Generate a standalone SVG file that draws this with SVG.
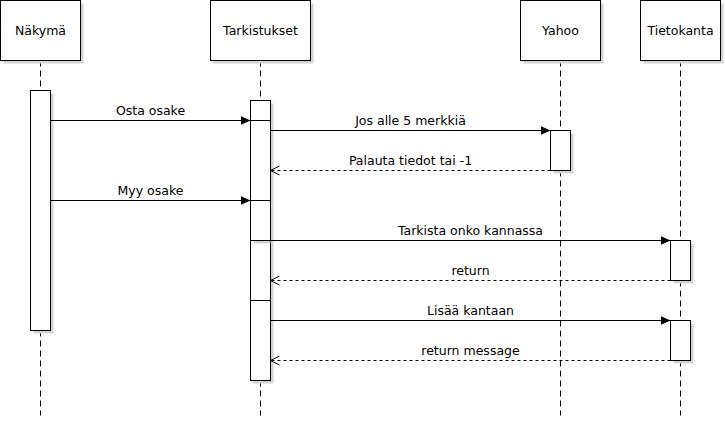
<svg xmlns="http://www.w3.org/2000/svg" width="725" height="425" viewBox="0 0 725 425">
<defs>
<style>
text{font-family:"DejaVu Sans","Liberation Sans",sans-serif;font-size:12.5px;fill:#000;text-anchor:middle}
.box{fill:#fff;stroke:#000;stroke-width:1}
.shadow{fill:#d3d3d3;stroke:none}
.life{stroke:#000;stroke-width:1;stroke-dasharray:6 4;fill:none}
.msg{stroke:#000;stroke-width:1;fill:none}
.ret{stroke:#000;stroke-width:1;stroke-dasharray:3 3;fill:none}
</style>
<marker id="block" markerWidth="10" markerHeight="10" refX="10" refY="5" orient="auto" markerUnits="userSpaceOnUse">
<path d="M0,0.5 L10,5 L0,9.5 Z" fill="#000"/>
</marker>
<marker id="open" markerWidth="10" markerHeight="12" refX="9" refY="6" orient="auto" markerUnits="userSpaceOnUse">
<path d="M0,1.5 L9,6 L0,10.5" fill="none" stroke="#000" stroke-width="1"/>
</marker>
</defs>
<rect x="0" y="0" width="725" height="425" fill="#fff"/>
<g transform="translate(0.5,0.5)">
<g id="lifelines">
<line class="life" x1="40" y1="60" x2="40" y2="415"/>
<line class="life" x1="260" y1="60" x2="260" y2="415"/>
<line class="life" x1="560" y1="60" x2="560" y2="415"/>
<line class="life" x1="680" y1="60" x2="680" y2="415"/>
</g>
<g id="nakyma">
<rect class="shadow" x="3" y="3" width="80" height="60"/>
<rect class="box" x="0" y="0" width="80" height="60"/>
<text x="40" y="34">Näkymä</text>
</g>
<g id="tarkistukset">
<rect class="shadow" x="213" y="3" width="100" height="60"/>
<rect class="box" x="210" y="0" width="100" height="60"/>
<text x="260" y="34">Tarkistukset</text>
</g>
<g id="yahoo">
<rect class="shadow" x="523" y="3" width="80" height="60"/>
<rect class="box" x="520" y="0" width="80" height="60"/>
<text x="560" y="34">Yahoo</text>
</g>
<g id="tietokanta">
<rect class="shadow" x="643" y="3" width="80" height="60"/>
<rect class="box" x="640" y="0" width="80" height="60"/>
<text x="680" y="34">Tietokanta</text>
</g>
<g id="nakyma-activation">
<rect class="shadow" x="33" y="93" width="20" height="240"/>
<rect class="box" x="30" y="90" width="20" height="240"/>
</g>
<g id="tarkistukset-activation">
<rect class="shadow" x="253" y="103" width="20" height="280"/>
<rect class="box" x="250" y="100" width="20" height="280"/>
<rect class="shadow" x="253" y="240.5" width="17" height="2.5"/>
</g>
<g id="yahoo-activation">
<rect class="shadow" x="553" y="133" width="20" height="40"/>
<rect class="box" x="550" y="130" width="20" height="40"/>
</g>
<g id="tietokanta-activation-1">
<rect class="shadow" x="673" y="243" width="20" height="40"/>
<rect class="box" x="670" y="240" width="20" height="40"/>
</g>
<g id="tietokanta-activation-2">
<rect class="shadow" x="673" y="323" width="20" height="40"/>
<rect class="box" x="670" y="320" width="20" height="40"/>
</g>
<g id="connectors">
<line class="msg" x1="50" y1="120" x2="250" y2="120" marker-end="url(#block)"/>
<line class="msg" x1="250" y1="120" x2="270" y2="120"/>
<text x="150" y="114">Osta osake</text>
<line class="msg" x1="270" y1="130" x2="550" y2="130" marker-end="url(#block)"/>
<text x="410" y="124">Jos alle 5 merkkiä</text>
<line class="ret" x1="550" y1="170" x2="270" y2="170" marker-end="url(#open)"/>
<text x="410" y="164">Palauta tiedot tai -1</text>
<line class="msg" x1="50" y1="200" x2="250" y2="200" marker-end="url(#block)"/>
<line class="msg" x1="250" y1="200" x2="270" y2="200"/>
<text x="150" y="194">Myy osake</text>
<line class="msg" x1="250" y1="240" x2="670" y2="240" marker-end="url(#block)"/>
<text x="470" y="234">Tarkista onko kannassa</text>
<line class="ret" x1="670" y1="280" x2="270" y2="280" marker-end="url(#open)"/>
<text x="470" y="274">return</text>
<line class="msg" x1="250" y1="300" x2="270" y2="300"/>
<line class="msg" x1="270" y1="320" x2="670" y2="320" marker-end="url(#block)"/>
<text x="470" y="314">Lisää kantaan</text>
<line class="ret" x1="670" y1="360" x2="270" y2="360" marker-end="url(#open)"/>
<text x="470" y="354">return message</text>
</g>
</g>
</svg>
